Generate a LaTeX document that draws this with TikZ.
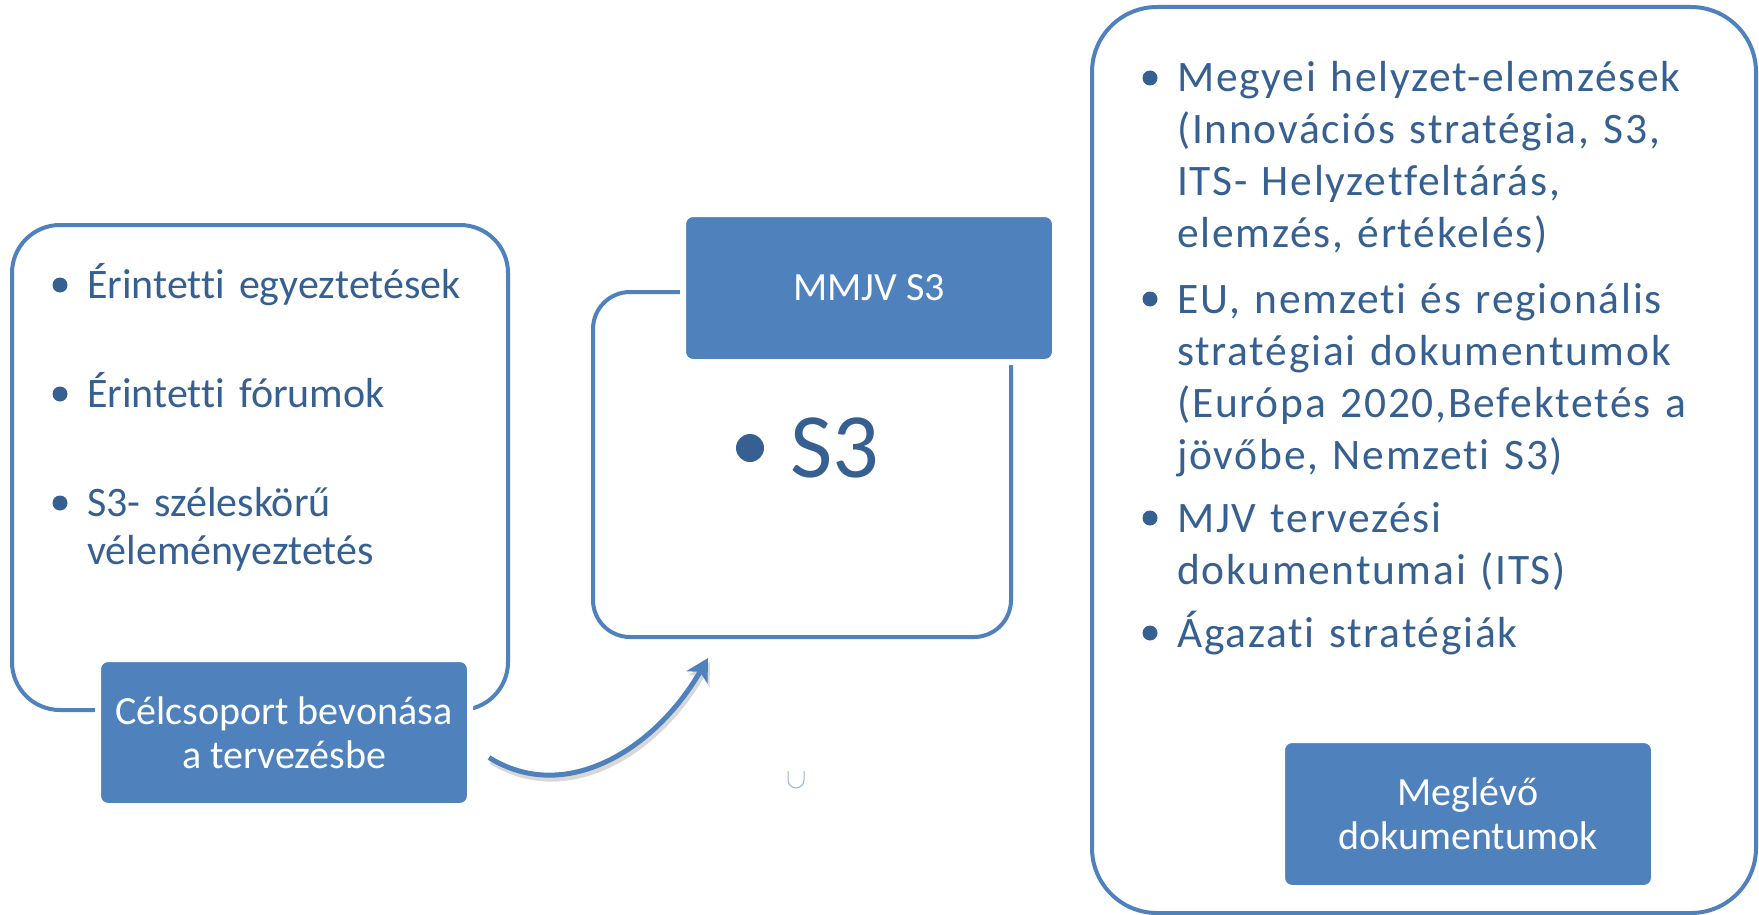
\documentclass[tikz,border=0pt]{standalone}
\usepackage{fontspec}
\setmainfont[Ligatures=NoCommon]{Carlito}
\newfontfamily\widefont[Ligatures=NoCommon, LetterSpace=4, WordSpace=0.9]{Carlito}
\usetikzlibrary{arrows.meta}
\definecolor{boxblue}{RGB}{79,129,189}
\definecolor{txtblue}{RGB}{55,96,146}
\tikzstyle{frame}=[draw=boxblue, line width=4pt]
\tikzstyle{tag}=[fill=boxblue, draw=white, line width=6pt, rounded corners=10pt, text=white, align=center, inner sep=0pt, font=\fontsize{40}{44}\selectfont]
\tikzstyle{item}=[anchor=base west, inner sep=0pt, text=txtblue, align=left, text width=600pt]
\tikzstyle{ritem}=[item, font=\widefont\fontsize{43.5}{52}\selectfont]
\tikzstyle{dot}=[circle, fill=txtblue, inner sep=0pt, minimum size=15pt]

\begin{document}
\begin{tikzpicture}[x=1pt, y=-1pt]
\useasboundingbox (0,0) rectangle (1759,915);
% Frames
    \draw[frame, rounded corners=48pt] (12,225) rectangle (508,710);
    \draw[frame, rounded corners=37pt] (593,292) rectangle (1011,637);
    \draw[frame, rounded corners=65pt] (1092,7) rectangle (1756,913);
% Tags
    \node[tag, minimum width=372pt, minimum height=147pt] (celcs) at (284,732.5) {Célcsoport bevonása\\a tervezésbe};
    \node[tag, minimum width=372pt, minimum height=148pt] (mmjv) at (869,288) {MMJV S3};
    \node[tag, minimum width=372pt, minimum height=148pt] (meglevo) at (1468,814) {Meglévő\\dokumentumok};
% Left list
    \node[dot] (bl1) at (60,285) {};
    \node[item, font=\fontsize{42}{48}\selectfont] (l1) at (87,298) {Érintetti egyeztetések};
    \node[dot] (bl2) at (60,394) {};
    \node[item, font=\fontsize{42}{48}\selectfont] (l2) at (87,407) {Érintetti fórumok};
    \node[dot] (bl3) at (60,503) {};
    \node[item, font=\fontsize{42}{48}\selectfont] (l3) at (87,516) {S3- széleskörű\\véleményeztetés};
% Middle
    \node[dot, minimum size=28pt] (bs3) at (750,448) {};
    \node[item, text width=, font=\fontsize{92}{110}\selectfont] (s3) at (790,477) {S3};
% Right list
    \node[dot] (br1) at (1150,78) {};
    \node[ritem] (r1) at (1177,92) {Megyei helyzet-elemzések\\(Innovációs stratégia, S3,\\ITS- Helyzetfeltárás,\\elemzés, értékelés)};
    \node[dot] (br2) at (1150,299) {};
    \node[ritem] (r2) at (1177,313) {EU, nemzeti és regionális\\stratégiai dokumentumok\\(Európa 2020,Befektetés a\\jövőbe, Nemzeti S3)};
    \node[dot] (br3) at (1150,518) {};
    \node[ritem] (r3) at (1177,532) {MJV tervezési\\dokumentumai (ITS)};
    \node[dot] (br4) at (1150,633) {};
    \node[ritem] (r4) at (1177,647) {Ágazati stratégiák};
% Arrow
    \coordinate (tip) at (708,658);
    \draw[line width=5pt, black!30, opacity=0.5, transform canvas={shift={(2pt,-4pt)}}, -{Stealth[length=22pt, width=24pt, inset=6pt]}]
        ([xshift=16pt, yshift=-25pt]celcs.east) .. controls (565,805) and (655,750) .. (tip);
    \draw[line width=5pt, boxblue, -{Stealth[length=22pt, width=24pt, inset=6pt]}]
        ([xshift=16pt, yshift=-25pt]celcs.east) .. controls (565,805) and (655,750) .. (tip);
% Stray mark
    \draw[boxblue!60, line width=1pt] (788,771) -- (788,780) arc[start angle=180, end angle=0, radius=8] -- (804,771);
\end{tikzpicture}
\end{document}
